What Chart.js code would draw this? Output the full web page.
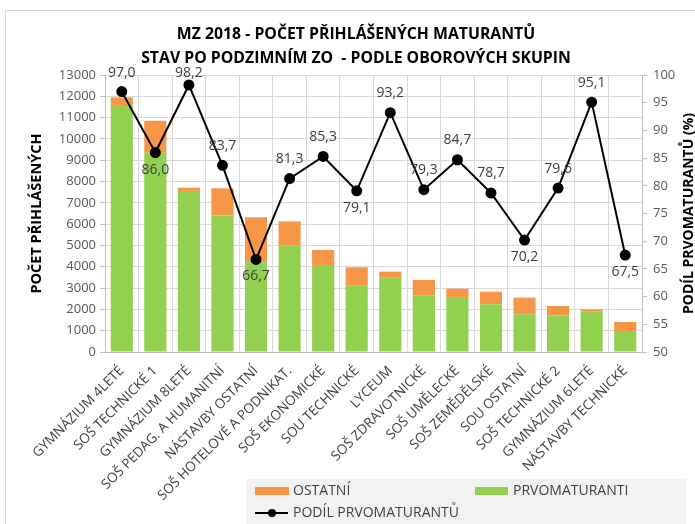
<!DOCTYPE html>
<html><head><meta charset="utf-8">
<script src="https://cdn.jsdelivr.net/npm/chart.js@4/dist/chart.umd.min.js"></script>
<style>html,body{margin:0;padding:0;background:#fff}#wrap{position:relative;width:695px;height:524px}</style>
</head><body><div id="wrap"><canvas id="c" width="695" height="524"></canvas></div>
<script>
const categories = ['GYMNÁZIUM 4LETÉ','SOŠ TECHNICKÉ 1','GYMNÁZIUM 8LETÉ','SOŠ PEDAG. A HUMANITNÍ','NÁSTAVBY OSTATNÍ','SOŠ HOTELOVÉ A PODNIKAT.','SOŠ EKONOMICKÉ','SOU TECHNICKÉ','LYCEUM','SOŠ ZDRAVOTNICKÉ','SOŠ UMĚLECKÉ','SOŠ ZEMĚDĚLSKÉ','SOU OSTATNÍ','SOŠ TECHNICKÉ 2','GYMNÁZIUM 6LETÉ','NÁSTAVBY TECHNICKÉ'];
const prvomaturanti = [11590, 9350, 7560, 6410, 4210, 4990, 4080, 3130, 3505, 2660, 2540, 2240, 1770, 1720, 1890, 940];
const ostatni = [360, 1500, 150, 1270, 2110, 1140, 710, 845, 265, 720, 430, 590, 780, 440, 110, 470];
const podil = [97.0, 86.0, 98.2, 83.7, 66.7, 81.3, 85.3, 79.1, 93.2, 79.3, 84.7, 78.7, 70.2, 79.6, 95.1, 67.5];
const labelSide = ['above','below','above','above','below','above','above','below','above','above','above','above','below','above','above','below'];
const titleLines = ['MZ 2018 - POČET PŘIHLÁŠENÝCH MATURANTŮ', 'STAV PO PODZIMNÍM ZO  - PODLE OBOROVÝCH SKUPIN'];
const leftAxisTitle = 'POČET PŘIHLÁŠENÝCH';
const rightAxisTitle = 'PODÍL PRVOMATURANTŮ (%)';

const FONT = "'Open Sans', 'Noto Sans', sans-serif";
const ORANGE = '#F79646', GREEN = '#92D050';

const decor = {
  id: 'decor',
  beforeDraw(chart) {
    const c = chart.ctx;
    c.save();
    c.fillStyle = '#fff'; c.fillRect(0, 0, chart.width, chart.height);
    c.strokeStyle = '#d9d9d9'; c.lineWidth = 1;
    c.strokeRect(5.5, 10.5, 800, 700);
    c.restore();
  },
  afterDraw(chart) {
    const c = chart.ctx;
    c.save();
    c.fillStyle = '#000';
    c.font = "bold 15.8px " + FONT;
    c.textAlign = 'center'; c.textBaseline = 'middle';
    c.fillText(titleLines[0], 356, 34);
    c.fillText(titleLines[1], 356, 58);
    c.save();
    c.translate(689, (chart.chartArea.top + chart.chartArea.bottom) / 2);
    c.rotate(-Math.PI / 2);
    c.font = "bold 14px " + FONT;
    c.fillText(rightAxisTitle, 0, 0);
    c.restore();
    c.fillStyle = '#f2f2f2';
    c.fillRect(246, 479, 440, 45);
    c.fillStyle = ORANGE; c.fillRect(255, 487, 34, 8);
    c.fillStyle = GREEN; c.fillRect(475, 487, 33, 8);
    c.strokeStyle = '#000'; c.lineWidth = 2;
    c.beginPath(); c.moveTo(255, 513); c.lineTo(288, 513); c.stroke();
    c.fillStyle = '#000'; c.beginPath(); c.arc(272, 513, 4, 0, Math.PI * 2); c.fill();
    c.font = "14px " + FONT; c.fillStyle = '#404040';
    c.textAlign = 'left';
    c.fillText('OSTATNÍ', 293, 491);
    c.fillText('PRVOMATURANTI', 513, 491);
    c.fillText('PODÍL PRVOMATURANTŮ', 293, 513);
    c.restore();
  },
  afterDatasetsDraw(chart) {
    const meta = chart.getDatasetMeta(0);
    const c = chart.ctx;
    c.save();
    c.font = "14px " + FONT;
    c.fillStyle = '#404040';
    c.textAlign = 'center'; c.textBaseline = 'middle';
    meta.data.forEach((pt, i) => {
      let y = labelSide[i] === 'above' ? pt.y - 19.5 : pt.y + 17;
      if (y < chart.chartArea.top - 2) y = chart.chartArea.top - 2;
      c.fillText(podil[i].toFixed(1).replace('.', ','), pt.x, y);
    });
    c.restore();
  }
};

new Chart(document.getElementById('c'), {
  type: 'bar',
  data: {
    labels: categories,
    datasets: [
      { type: 'line', label: 'PODÍL PRVOMATURANTŮ', data: podil, yAxisID: 'y1', borderColor: '#000', borderWidth: 2,
        pointRadius: 4.5, pointBackgroundColor: '#000', pointBorderColor: '#000', tension: 0, order: 0 },
      { label: 'PRVOMATURANTI', data: prvomaturanti, backgroundColor: GREEN, stack: 's', order: 1 },
      { label: 'OSTATNÍ', data: ostatni, backgroundColor: ORANGE, stack: 's', order: 1 }
    ]
  },
  options: {
    responsive: false, animation: false, devicePixelRatio: 1,
    layout: { padding: { top: 75, left: 0, right: 0, bottom: 0 } },
    plugins: { legend: { display: false }, title: { display: false }, tooltip: { enabled: false } },
    datasets: { bar: { categoryPercentage: 1, barPercentage: 0.66 } },
    scales: {
      x: {
        stacked: true,
        grid: { color: '#d9d9d9', offset: true, drawTicks: false },
        border: { color: '#bfbfbf' },
        ticks: { maxRotation: 45, minRotation: 45, autoSkip: false, font: { family: FONT, size: 13.5 }, color: '#404040', padding: 11 },
        afterFit(s) { s.height = 172; }
      },
      y: {
        stacked: true, min: 0, max: 13000,
        ticks: { stepSize: 1000, font: { family: FONT, size: 13 }, color: '#595959', padding: 4, callback: v => String(v) },
        grid: { color: '#d9d9d9', tickLength: 5, tickColor: '#bfbfbf' },
        border: { color: '#bfbfbf' },
        title: { display: true, text: leftAxisTitle, font: { family: FONT, size: 14.5, weight: 'bold' }, color: '#000', padding: { top: 28, bottom: 0 } },
        afterFit(s) { s.width = 105; }
      },
      y1: {
        position: 'right', min: 50, max: 100,
        ticks: { stepSize: 5, font: { family: FONT, size: 13 }, color: '#595959', padding: 6 },
        grid: { drawOnChartArea: false, tickLength: 5, tickColor: '#bfbfbf' },
        border: { color: '#bfbfbf' },
        afterFit(s) { s.width = 53; }
      }
    }
  },
  plugins: [decor]
});
</script></body></html>
